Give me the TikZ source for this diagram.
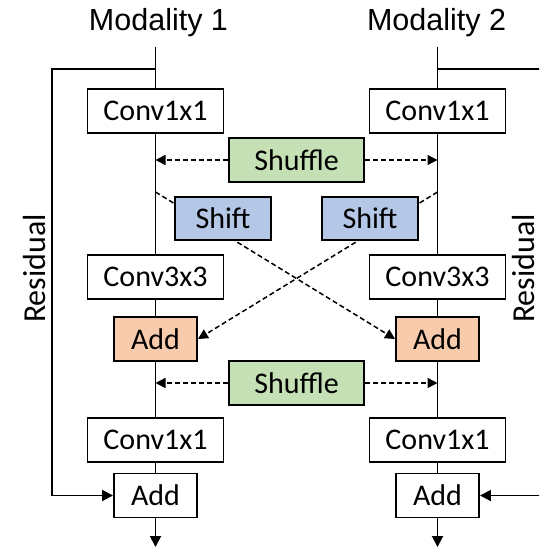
\documentclass[tikz,border=0pt]{standalone}
\usepackage{fontspec}
\setmainfont{Carlito}
\newfontfamily\headfont{Liberation Sans}
\usetikzlibrary{arrows.meta,backgrounds}

\definecolor{shufflegreen}{RGB}{197,224,180}
\definecolor{shiftblue}{RGB}{180,199,231}
\definecolor{addorange}{RGB}{248,203,173}

\tikzset{
  blk/.style={draw=black, line width=1.9pt, minimum height=44pt, inner sep=0pt,
    font=\fontsize{30}{34}\selectfont},
  convbox/.style={blk, fill=white, minimum width=136pt},
  addbox/.style={blk, fill=white, minimum width=83pt},
  addop/.style={blk, fill=addorange, minimum width=83pt},
  shufflebox/.style={blk, fill=shufflegreen, minimum width=135pt},
  shiftbox/.style={blk, fill=shiftblue, minimum width=96pt, minimum height=43pt},
  flow/.style={line width=1.9pt},
  tip/.style={-{Triangle[length=11pt,width=11pt]}},
  dashtip/.style={line width=1.5pt, dash pattern=on 5pt off 3pt,
    -{Triangle[length=10pt,width=10pt]}},
  headlabel/.style={font=\headfont\fontsize{30.5}{34}\selectfont, anchor=base,
    inner sep=0pt},
  reslabel/.style={font=\fontsize{32}{36}\selectfont, rotate=90, anchor=base,
    inner sep=0pt, text depth=0pt},
}

\begin{document}
\begin{tikzpicture}[x=1pt, y=-1pt]
  \useasboundingbox (0,0) rectangle (539,548);
  \clip (0,0) rectangle (539,548);

  % stream headings
  \node[headlabel] (m1) at (158.5,31) {Modality 1};
  \node[headlabel] (m2) at (436.5,31) {Modality 2};

  % left stream
  \coordinate (in1) at (155.5,47);
  \coordinate (br1) at (155.5,69);
  \coordinate (rc1) at (52,69);
  \node[convbox] (ca1) at (155.5,111) {Conv1x1};
  \node[convbox] (cb1) at (155.5,277) {Conv3x3};
  \node[addop]   (ad1) at (155.5,339) {Add};
  \node[convbox] (cc1) at (155.5,440) {Conv1x1};
  \node[addbox]  (ae1) at (155.5,495.5) {Add};
  \coordinate (out1) at (155.5,547);
  \coordinate (sh1) at (155.5,160);
  \coordinate (sa1) at (155.5,192);
  \coordinate (sb1) at (155.5,383);

  % right stream
  \coordinate (in2) at (437.5,47);
  \coordinate (br2) at (437.5,69);
  \coordinate (rc2) at (565,69);
  \node[convbox] (ca2) at (437.5,111) {Conv1x1};
  \node[convbox] (cb2) at (437.5,277) {Conv3x3};
  \node[addop]   (ad2) at (437.5,339) {Add};
  \node[convbox] (cc2) at (437.5,440) {Conv1x1};
  \node[addbox]  (ae2) at (437.5,495.5) {Add};
  \coordinate (out2) at (437.5,547);
  \coordinate (sh2) at (437.5,160);
  \coordinate (sa2) at (437.5,192);
  \coordinate (sb2) at (437.5,383);

  % exchange blocks between the streams
  \node[shufflebox] (sf1) at (296.5,160) {Shuffle};
  \node[shufflebox] (sf2) at (296.5,383) {Shuffle};
  \node[shiftbox] (st1) at (223,218.5) {Shift};
  \node[shiftbox] (st2) at (370,218.5) {Shift};

  % residual labels (baseline on the right-hand side of the rotated text)
  \node[reslabel] (r1) at (45,268.5) {Residual};
  \node[reslabel] (r2) at (534.5,268.5) {Residual};

  \begin{scope}[on background layer]
    % cross-stream shifted features, passing under the Shift blocks
    \draw[dashtip] (sa1) -- (ad2.west);
    \draw[dashtip] (sa2) -- (ad1.east);
  \end{scope}

  % main data paths
  \draw[flow] (in1) -- (ca1.north);
  \draw[flow] (ca1.south) -- (cb1.north);
  \draw[flow] (cb1.south) -- (ad1.north);
  \draw[flow] (ad1.south) -- (cc1.north);
  \draw[flow] (cc1.south) -- (ae1.north);
  \draw[flow,tip] (ae1.south) -- (out1);

  \draw[flow] (in2) -- (ca2.north);
  \draw[flow] (ca2.south) -- (cb2.north);
  \draw[flow] (cb2.south) -- (ad2.north);
  \draw[flow] (ad2.south) -- (cc2.north);
  \draw[flow] (cc2.south) -- (ae2.north);
  \draw[flow,tip] (ae2.south) -- (out2);

  % residual connections
  \draw[flow,tip] (br1) -- (rc1) |- (ae1.west);
  \draw[flow,tip] (br2) -- (rc2) |- (ae2.east);

  % shuffle exchanges
  \draw[dashtip] (sf1.west) -- (sh1);
  \draw[dashtip] (sf1.east) -- (sh2);
  \draw[dashtip] (sf2.west) -- (sb1);
  \draw[dashtip] (sf2.east) -- (sb2);
\end{tikzpicture}
\end{document}
